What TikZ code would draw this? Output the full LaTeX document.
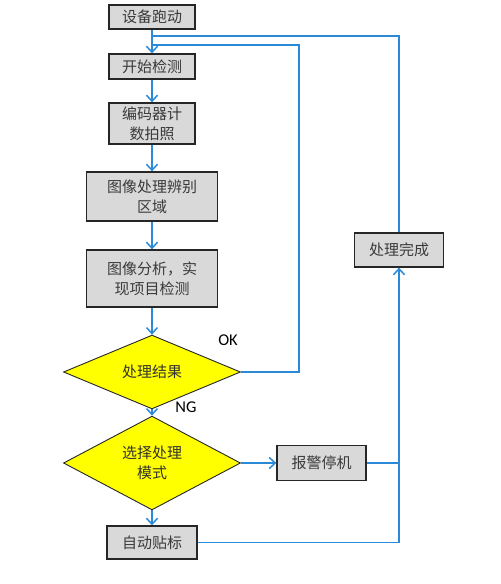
\documentclass[tikz,border=0pt]{standalone}
\usepackage{fontspec}
\newfontfamily\cjk{Noto Sans CJK SC}
\newfontfamily\lat{Carlito}
\usetikzlibrary{shapes.geometric,arrows.meta}
\definecolor{lineblue}{HTML}{2B8AD8}
\definecolor{boxgray}{HTML}{D9D9D9}
\definecolor{txtgray}{HTML}{3A3A3A}
\definecolor{dyellow}{HTML}{FFFF00}
\tikzset{
  box/.style={draw=black!85, line width=1.3bp, fill=boxgray, inner sep=0pt,
    align=center, text=txtgray, font=\cjk\fontsize{15bp}{20bp}\selectfont},
  decision/.style={draw=black!85, line width=0.9bp, fill=dyellow, shape=diamond,
    inner sep=0pt, align=center, text=black!80, font=\cjk\fontsize{15bp}{20bp}\selectfont},
  flow/.style={draw=lineblue, line width=1.5bp},
  arr/.style={flow, -{Straight Barb[length=6bp,width=11bp,line width=1.5bp]}},
  lbl/.style={font=\lat\fontsize{16.5bp}{18bp}\selectfont, text=black, inner sep=0pt}
}
\begin{document}
\begin{tikzpicture}[x=1bp,y=-1bp]
\useasboundingbox (0,0) rectangle (501,584);
\node[box, minimum width=86bp, minimum height=24bp] (b1) at (152,17) {设备跑动};
\node[box, minimum width=86bp, minimum height=25bp] (b2) at (152,66.5) {开始检测};
\node[box, minimum width=86bp, minimum height=41bp] (b3) at (152,123.5) {编码器计\\数拍照};
\node[box, minimum width=131bp, minimum height=49bp] (b4) at (152,196.5) {图像处理辨别\\区域};
\node[box, minimum width=131bp, minimum height=57bp] (b5) at (152,278.5) {图像分析，实\\现项目检测};
\node[decision, minimum width=177bp, minimum height=68bp] (d1) at (152,372) {处理结果};
\node[decision, minimum width=177bp, minimum height=70bp] (d2) at (152,463) {选择处理\\模式};
\node[box, minimum width=89bp, minimum height=35bp] (alarm) at (321.5,463) {报警停机};
\node[box, minimum width=90bp, minimum height=33bp] (b6) at (152,542.5) {自动贴标};
\node[box, minimum width=89bp, minimum height=34bp] (done) at (399,250) {处理完成};
\node[lbl] (ok) at (228,340) {OK};
\node[lbl] (ng) at (186,407) {NG};
\coordinate (j1) at (152,36);
\coordinate (j2) at (152,45);
\coordinate (k) at (299,45);
\coordinate (r1) at (399,463);
% main flow
\draw[arr] (b1.south) -- (b2.north);
\draw[arr] (b2.south) -- (b3.north);
\draw[arr] (b3.south) -- (b4.north);
\draw[arr] (b4.south) -- (b5.north);
\draw[arr] (b5.south) -- (d1.north);
\draw[arr] (d1.south) -- (d2.north);
\draw[arr] (d2.east) -- (alarm.west);
\draw[arr] (d2.south) -- (b6.north);
% loops
\draw[flow] (done.north) |- (j1);
\draw[flow] (d1.east) -| (k) -- (j2);
\draw[flow] (alarm.east) -- (r1);
\draw[arr] (b6.east) -| (done.south);
\end{tikzpicture}
\end{document}
